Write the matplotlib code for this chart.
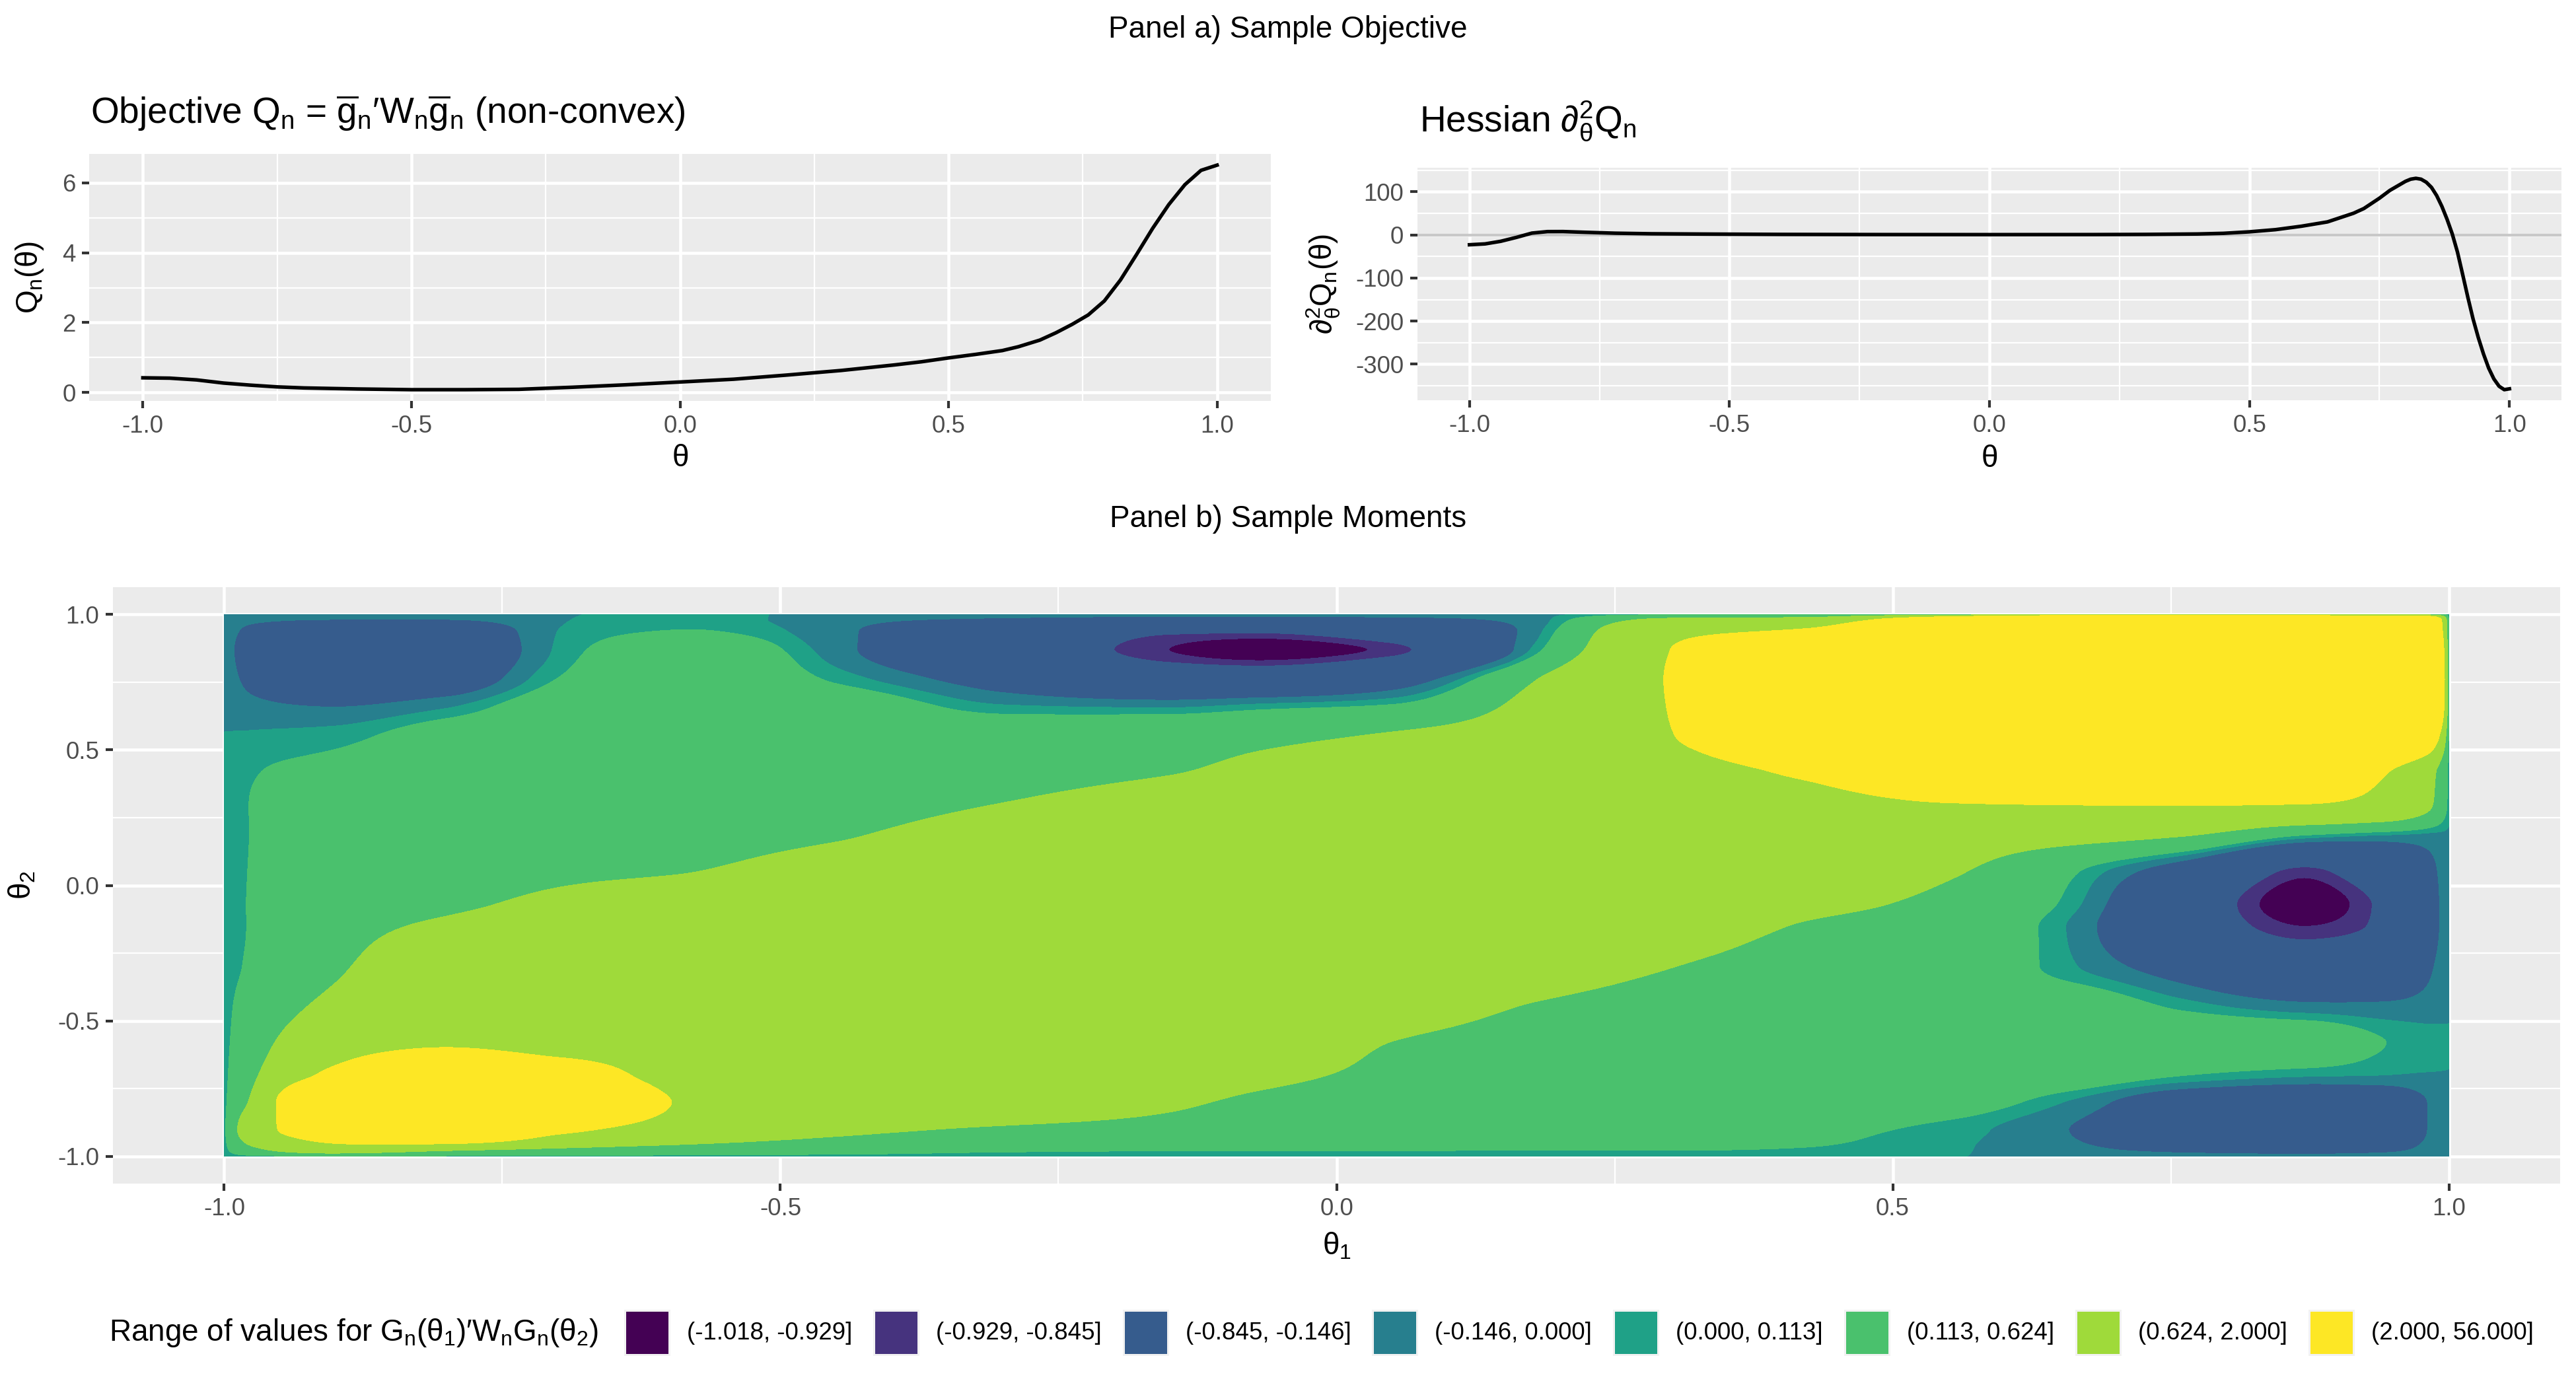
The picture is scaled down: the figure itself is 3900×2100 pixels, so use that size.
import numpy as np
import matplotlib
matplotlib.use('Agg')
import matplotlib.pyplot as plt
from matplotlib.patches import Rectangle
from matplotlib.ticker import FixedLocator

plt.rcParams['font.family'] = ['Liberation Sans', 'DejaVu Sans']
plt.rcParams['mathtext.fontset'] = 'custom'
plt.rcParams['mathtext.rm'] = 'Liberation Sans'
plt.rcParams['mathtext.it'] = 'Liberation Sans'
plt.rcParams['mathtext.bf'] = 'Liberation Sans:bold'
plt.rcParams['mathtext.sf'] = 'Liberation Sans'
plt.rcParams['axes.unicode_minus'] = False

# %% data
# objective Q_n(theta)
theta_q = [-1.0, -0.95, -0.9, -0.85, -0.8, -0.75, -0.7, -0.6, -0.5, -0.4, -0.3,
           -0.2, -0.1, 0.0, 0.1, 0.2, 0.3, 0.4, 0.45, 0.5, 0.55, 0.6, 0.63,
           0.67, 0.7, 0.73, 0.76, 0.79, 0.82, 0.85, 0.88, 0.91, 0.94, 0.97, 1.0]
q_vals = [0.42, 0.41, 0.36, 0.27, 0.21, 0.16, 0.13, 0.10, 0.08, 0.08, 0.09,
          0.15, 0.22, 0.30, 0.38, 0.50, 0.63, 0.79, 0.88, 0.99, 1.09, 1.20, 1.31,
          1.50, 1.71, 1.95, 2.22, 2.62, 3.22, 3.95, 4.70, 5.38, 5.95, 6.36, 6.51]

# hessian of Q_n
theta_h = [-1.0, -0.97, -0.94, -0.91, -0.88, -0.85, -0.82, -0.78, -0.72, -0.65,
           -0.55, -0.4, -0.2, 0.0, 0.2, 0.3, 0.4, 0.45, 0.5, 0.55, 0.6, 0.65,
           0.7, 0.72, 0.75, 0.77, 0.79, 0.8, 0.81, 0.82, 0.83, 0.84, 0.85,
           0.86, 0.87, 0.88, 0.89, 0.9, 0.91, 0.92, 0.93, 0.94, 0.95, 0.96,
           0.97, 0.98, 0.99, 1.0]
h_vals = [-23, -21, -15, -6, 4, 7.5, 7.6, 6, 3.8, 2.5,
          1.8, 1.0, 0.6, 0.5, 0.6, 1.0, 2.0, 3.5, 7, 12, 20, 30,
          50, 61, 85, 103, 117, 124, 129, 131, 129, 122, 110,
          91, 66, 36, 2, -40, -92, -145, -195, -238, -276, -309,
          -334, -351, -359, -357]

# G_n(theta1)' W_n G_n(theta2) on a grid (symmetric; upper triangle, row i holds
# theta2 = grid_nodes[i] and theta1 = grid_nodes[i:])
grid_nodes = [-1.0, -0.975, -0.9, -0.8, -0.7, -0.58, -0.45, -0.3, -0.15, -0.07,
              0.05, 0.18, 0.3, 0.42, 0.55, 0.66, 0.76, 0.87, 0.94, 0.98, 1.0]
z_rows = [
    [0.05, 0.05, 0.05, 0.05, 0.05, 0.05, 0.05, 0.05, 0.05, 0.05, 0.05, 0.045,
     0.04, 0.03, 0.005, -0.04, -0.07, -0.08, -0.07, -0.05, -0.03],
    [0.45, 1.2, 0.75, 0.5, 0.35, 0.25, 0.15, 0.13, 0.13, 0.125, 0.12, 0.12,
     0.1, 0.02, -0.1, -0.2, -0.25, -0.2, -0.1, -0.03],
    [3.5, 6.0, 2.5, 1.3, 0.8, 0.55, 0.45, 0.4, 0.35, 0.3, 0.25, 0.18, 0.06,
     -0.15, -0.4, -0.45, -0.4, -0.15, -0.03],
    [10.0, 5.0, 1.8, 1.3, 1.0, 0.7, 0.55, 0.45, 0.4, 0.35, 0.3, 0.25, -0.02,
     -0.35, -0.45, -0.4, -0.15, -0.03],
    [3.0, 1.5, 1.2, 1.0, 0.85, 0.72, 0.55, 0.45, 0.42, 0.4, 0.38, 0.3, 0.12,
     0.02, 0.0, -0.01, -0.01],
    [1.6, 1.35, 1.15, 0.98, 0.88, 0.62, 0.52, 0.48, 0.45, 0.43, 0.42, 0.4,
     0.34, 0.12, 0.06, 0.05],
    [1.4, 1.25, 1.1, 1.0, 0.8, 0.6, 0.5, 0.45, 0.4, 0.32, 0.08, -0.08, -0.1,
     -0.08, -0.04],
    [1.2, 1.15, 1.1, 0.98, 0.82, 0.63, 0.5, 0.35, 0.02, -0.3, -0.6, -0.5,
     -0.2, -0.03],
    [1.12, 1.1, 1.02, 0.92, 0.8, 0.6, 0.4, -0.02, -0.6, -0.93, -0.8, -0.3, -0.03],
    [1.1, 1.07, 1.0, 0.9, 0.75, 0.5, 0.05, -0.6, -1.01, -0.8, -0.3, -0.03],
    [1.1, 1.15, 1.1, 0.95, 0.68, 0.15, -0.35, -0.894, -0.6, -0.25, -0.03],
    [1.2, 1.25, 1.2, 1.0, 0.85, 0.62, 0.06, -0.04, -0.05, -0.02],
    [1.7, 1.6, 1.95, 2.05, 2.1, 2.0, 1.5, 0.8, 0.05],
    [2.2, 4.0, 5.0, 5.5, 4.5, 2.2, 1.0, 0.05],
    [8.0, 12.0, 14.0, 12.0, 6.0, 4.0, 0.05],
    [16.0, 20.0, 18.0, 10.0, 8.0, 0.05],
    [25.0, 22.0, 12.0, 9.0, 0.05],
    [20.0, 12.0, 8.0, 0.05],
    [8.0, 6.0, 0.05],
    [5.0, 0.05],
    [0.03],
]

bin_edges = [-1.018, -0.929, -0.845, -0.146, 0.0, 0.113, 0.624, 2.0, 56.0]
bin_labels = ['(-1.018, -0.929]', '(-0.929, -0.845]', '(-0.845, -0.146]',
              '(-0.146, 0.000]', '(0.000, 0.113]', '(0.113, 0.624]',
              '(0.624, 2.000]', '(2.000, 56.000]']
bin_colors = ['#440154', '#46337E', '#365C8D', '#277F8E', '#1FA187',
              '#4AC16D', '#9FDA3A', '#FDE725']

# %% layout helpers (pixel boxes on a 3900x2100 canvas)
W, H = 3900, 2100
fig = plt.figure(figsize=(13, 7), dpi=300, facecolor='white')


def box(x0, y0, x1, y1):
    return [x0 / W, 1 - y1 / H, (x1 - x0) / W, (y1 - y0) / H]


def gg_axes(ax):
    ax.set_facecolor('#EBEBEB')
    for sp in ax.spines.values():
        sp.set_visible(False)
    ax.grid(True, which='major', color='white', linewidth=1.1)
    ax.grid(True, which='minor', color='white', linewidth=0.55)
    ax.set_axisbelow(True)
    ax.tick_params(which='major', length=2.75, width=1.0, color='#333333',
                   labelsize=8.8, labelcolor='#4D4D4D', pad=2.2)
    ax.tick_params(which='minor', length=0)


def theta_axis(axis):
    axis.set_major_locator(FixedLocator([-1, -0.5, 0, 0.5, 1]))
    axis.set_minor_locator(FixedLocator([-0.75, -0.25, 0.25, 0.75]))
    axis.set_ticklabels(['-1.0', '-0.5', '0.0', '0.5', '1.0'])


def expand(vals):
    lo, hi = min(vals), max(vals)
    pad = 0.05 * (hi - lo)
    return lo - pad, hi + pad


def pchip(x, y, xn):
    """Shape-preserving cubic (Fritsch-Carlson) along axis 0 of y, so the
    smooth band edges never overshoot the grid values."""
    x = np.asarray(x, float)
    y = np.asarray(y, float)
    h = np.diff(x)[:, None]
    d = np.diff(y, axis=0) / h
    m = np.zeros_like(y)
    w1 = 2 * h[1:] + h[:-1]
    w2 = h[1:] + 2 * h[:-1]
    same = d[:-1] * d[1:] > 0
    with np.errstate(divide='ignore', invalid='ignore'):
        hm = (w1 + w2) / (w1 / d[:-1] + w2 / d[1:])
    m[1:-1] = np.where(same, hm, 0.0)
    m[0] = d[0]
    m[-1] = d[-1]
    k = np.clip(np.searchsorted(x, xn) - 1, 0, len(x) - 2)
    hk = (x[k + 1] - x[k])[:, None]
    t = (xn - x[k])[:, None] / hk
    h00 = 2 * t**3 - 3 * t**2 + 1
    h10 = t**3 - 2 * t**2 + t
    h01 = -2 * t**3 + 3 * t**2
    h11 = t**3 - t**2
    return h00 * y[k] + h10 * hk * m[k] + h01 * y[k + 1] + h11 * hk * m[k + 1]


# %% panel a: objective
ax1 = fig.add_axes(box(135, 233, 1924, 607))
gg_axes(ax1)
ax1.plot(theta_q, q_vals, color='black', linewidth=1.3, zorder=3)
ax1.set_xlim(-1.1, 1.1)
ax1.set_ylim(*expand(q_vals))
theta_axis(ax1.xaxis)
ax1.yaxis.set_major_locator(FixedLocator([0, 2, 4, 6]))
ax1.yaxis.set_minor_locator(FixedLocator([1, 3, 5]))
ax1.set_xlabel(r'$\theta$', fontsize=11)
ax1.set_ylabel(r'$Q_n(\theta)$', fontsize=11)
ax1.xaxis.set_label_coords(0.5, -0.175)
ax1.yaxis.set_label_coords(-0.037, 0.5)

# %% panel a: hessian
ax2 = fig.add_axes(box(2146, 254, 3878, 606))
gg_axes(ax2)
ax2.axhline(0, color='#C8C8C8', linewidth=1.0, zorder=2)
ax2.plot(theta_h, h_vals, color='black', linewidth=1.3, zorder=3)
ax2.set_xlim(-1.1, 1.1)
ax2.set_ylim(*expand(h_vals))
theta_axis(ax2.xaxis)
ax2.yaxis.set_major_locator(FixedLocator([-300, -200, -100, 0, 100]))
ax2.yaxis.set_minor_locator(FixedLocator([-350, -250, -150, -50, 50, 150]))
ax2.set_xlabel(r'$\theta$', fontsize=11)
ax2.set_ylabel(r'$\partial^2_\theta Q_n(\theta)$', fontsize=11)
ax2.xaxis.set_label_coords(0.5, -0.19)
ax2.yaxis.set_label_coords(-0.066, 0.5)

fig.text(1950 / W, 1 - 45 / H, 'Panel a) Sample Objective', fontsize=11,
         ha='center', va='center')
fig.text(137 / W, 1 - 187 / H,
         r'Objective $Q_n$ = $\overline{g}_n\prime W_n\overline{g}_n$ (non-convex)',
         fontsize=13.2, ha='left', va='baseline')
fig.text(2149 / W, 1 - 199 / H, r'Hessian $\partial^2_\theta Q_n$',
         fontsize=13.2, ha='left', va='baseline')

# %% panel b: sample moments
n = len(grid_nodes)
Z = np.zeros((n, n))
for i, row in enumerate(z_rows):
    Z[i, i:] = row
    Z[i:, i] = row

fine = np.linspace(-1, 1, 801)
z_x = pchip(grid_nodes, Z.T, fine)          # along theta1 -> (fine_x, theta2)
z_fine = pchip(grid_nodes, z_x.T, fine)     # along theta2 -> (fine_y, fine_x)
z_fine = np.clip(z_fine, bin_edges[0] + 1e-6, bin_edges[-1] - 1e-6)

ax3 = fig.add_axes(box(171, 889, 3876, 1792))
gg_axes(ax3)
ax3.contourf(fine, fine, z_fine, levels=bin_edges, colors=bin_colors, zorder=2)
ax3.set_xlim(-1.1, 1.1)
ax3.set_ylim(-1.1, 1.1)
theta_axis(ax3.xaxis)
theta_axis(ax3.yaxis)
ax3.set_xlabel(r'$\theta_1$', fontsize=11)
ax3.set_ylabel(r'$\theta_2$', fontsize=11)
ax3.xaxis.set_label_coords(0.5, -0.08)
ax3.yaxis.set_label_coords(-0.031, 0.5)

fig.text(1950 / W, 1 - 786 / H, 'Panel b) Sample Moments', fontsize=11,
         ha='center', va='center')

# %% legend row
renderer = fig.canvas.get_renderer()
leg_y = 2018
t = fig.text(165 / W, 1 - leg_y / H,
             r'Range of values for $G_n(\theta_1)\prime W_nG_n(\theta_2)$',
             fontsize=11, ha='left', va='center')
x = t.get_window_extent(renderer).x1 + 39
for col, lab in zip(bin_colors, bin_labels):
    fig.add_artist(Rectangle((x / W, 1 - (leg_y + 35) / H), 70 / W, 70 / H,
                             transform=fig.transFigure, facecolor='#F2F2F2',
                             edgecolor='none'))
    fig.add_artist(Rectangle(((x + 3) / W, 1 - (leg_y + 32) / H), 64 / W, 64 / H,
                             transform=fig.transFigure, facecolor=col,
                             edgecolor='none'))
    lt = fig.text((x + 95) / W, 1 - leg_y / H, lab, fontsize=8.8,
                  ha='left', va='center')
    x = lt.get_window_extent(renderer).x1 + 32

fig.savefig('out.png', dpi=300, facecolor='white')
